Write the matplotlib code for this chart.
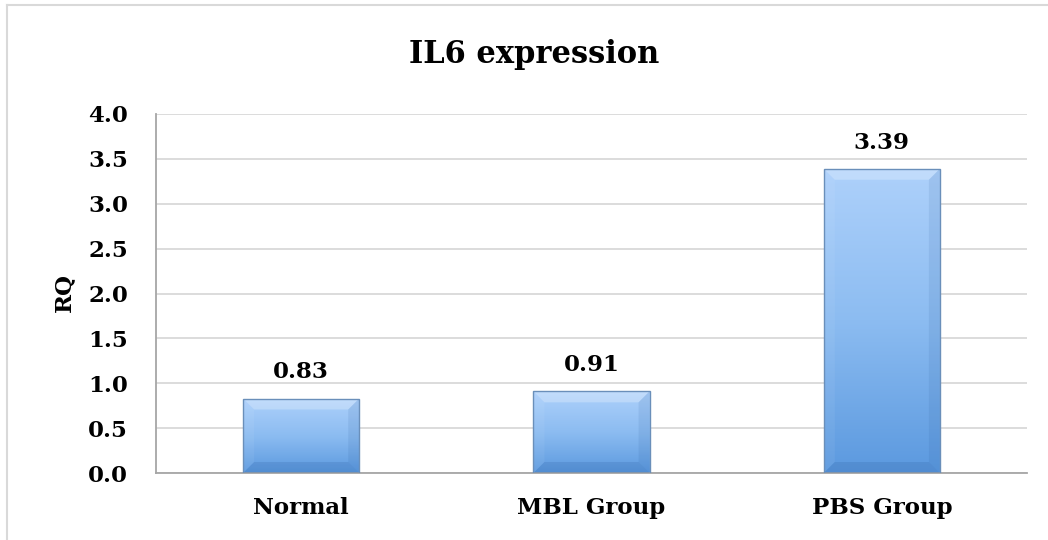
import numpy as np
import matplotlib
matplotlib.use("Agg")
import matplotlib.pyplot as plt
from matplotlib.colors import LinearSegmentedColormap
from matplotlib.patches import Polygon, Rectangle
from matplotlib.lines import Line2D

# ---- data -------------------------------------------------------------
categories = ["Normal", "MBL Group", "PBS Group"]
rq_values = [0.83, 0.91, 3.39]
y_ticks = [0.0, 0.5, 1.0, 1.5, 2.0, 2.5, 3.0, 3.5, 4.0]
title_text = "IL6 expression"
y_label = "RQ"

# ---- style ------------------------------------------------------------
plt.rcParams["font.family"] = ["DejaVu Serif"]
plt.rcParams["font.weight"] = "bold"

W, H = 1048, 540
fig = plt.figure(figsize=(W / 100, H / 100), dpi=100)
fig.patch.set_facecolor("white")

ax_left, ax_right, ax_top, ax_bottom = 156, 1027, 114, 473
ax = fig.add_axes([ax_left / W, 1 - ax_bottom / H,
                   (ax_right - ax_left) / W, (ax_bottom - ax_top) / H])
ax.set_xlim(-0.5, len(categories) - 0.5)
ax.set_ylim(y_ticks[0], y_ticks[-1])

# grid and spines
ax.set_axisbelow(True)
ax.yaxis.grid(True, color="#d9d9d9", linewidth=1.3)
for side in ("top", "right"):
    ax.spines[side].set_visible(False)
for side in ("left", "bottom"):
    ax.spines[side].set_color("#a6a6a6")
    ax.spines[side].set_linewidth(1.3)

label_size = 16.5
ax.set_yticks(y_ticks)
ax.set_yticklabels([f"{t:.1f}" for t in y_ticks], fontsize=label_size, fontweight="bold")
ax.set_xticks(range(len(categories)))
ax.set_xticklabels(categories, fontsize=label_size, fontweight="bold")
ax.tick_params(axis="y", length=0, pad=20)
ax.tick_params(axis="x", length=0, pad=17)

# ---- bars with vertical gradient and bevelled edges -------------------
bar_width = 0.40
grad_cmap = LinearSegmentedColormap.from_list("barfill", ["#5b99df", "#8cbcf1", "#aed1fb"])
gradient = np.linspace(0, 1, 256).reshape(-1, 1)

# pixel scale of the data units, used for a constant-size bevel
p0 = ax.transData.transform((0, 0))
p1 = ax.transData.transform((1, 1))
px_x = p1[0] - p0[0]
px_y = p1[1] - p0[1]
bevel = 11
bx, by = bevel / px_x, bevel / px_y

for i, v in enumerate(rq_values):
    x0, x1 = i - bar_width / 2, i + bar_width / 2
    y0, y1 = 0.0, v
    rect = Rectangle((x0, y0), bar_width, v, facecolor="none",
                     edgecolor="#6a8fba", linewidth=1.0, zorder=4)
    ax.add_patch(rect)
    im = ax.imshow(gradient, extent=(x0, x1, y0, y1), origin="lower",
                   cmap=grad_cmap, aspect="auto", zorder=2, interpolation="bicubic")
    im.set_clip_path(rect)
    bb = min(by, v / 2.2)
    # bevel facets
    ax.add_patch(Polygon([(x0, y1), (x1, y1), (x1 - bx, y1 - bb), (x0 + bx, y1 - bb)],
                         closed=True, facecolor="white", alpha=0.25,
                         edgecolor="none", zorder=3))
    ax.add_patch(Polygon([(x0, y0), (x1, y0), (x1 - bx, y0 + bb), (x0 + bx, y0 + bb)],
                         closed=True, facecolor="#1f4e8c", alpha=0.16,
                         edgecolor="none", zorder=3))
    ax.add_patch(Polygon([(x0, y0), (x0, y1), (x0 + bx, y1 - bb), (x0 + bx, y0 + bb)],
                         closed=True, facecolor="white", alpha=0.06,
                         edgecolor="none", zorder=3))
    ax.add_patch(Polygon([(x1, y0), (x1, y1), (x1 - bx, y1 - bb), (x1 - bx, y0 + bb)],
                         closed=True, facecolor="#1f4e8c", alpha=0.10,
                         edgecolor="none", zorder=3))
    # value label
    ax.annotate(f"{v:.2f}", xy=(i, v), xytext=(0, 14.5), textcoords="offset points",
                ha="center", va="baseline", fontsize=label_size, fontweight="bold",
                color="black", zorder=5)

# ---- title, axis label, chart frame ------------------------------------
fig.text(534 / W, 1 - 55 / H, title_text, ha="center", va="center",
         fontsize=22, fontweight="bold")
fig.text(64 / W, 1 - 292 / H, y_label, ha="center", va="center",
         rotation=90, fontsize=label_size, fontweight="bold")

frame_color = "#d9d9d9"
fig.add_artist(Line2D([7 / W, 1.0], [1 - 5 / H, 1 - 5 / H],
                      transform=fig.transFigure, color=frame_color, linewidth=1.5))
fig.add_artist(Line2D([7 / W, 7 / W], [0.0, 1 - 5 / H],
                      transform=fig.transFigure, color=frame_color, linewidth=1.5))

fig.savefig("out.png", dpi=100)
